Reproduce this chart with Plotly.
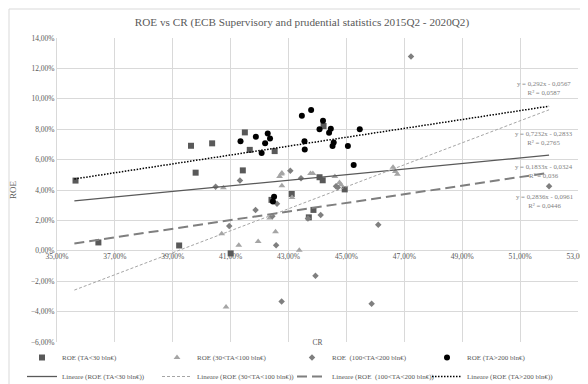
import plotly.graph_objects as go

# ---------------- data (percent values) ----------------
sq_x = [35.64, 36.43, 39.22, 39.63, 39.79, 40.36, 41.00, 41.42, 41.49, 41.66,
        42.41, 42.52, 43.11, 43.70, 43.86, 44.07, 44.18, 44.21, 44.94]
sq_y = [4.62, 0.55, 0.35, 6.91, 5.14, 7.07, -0.17, 5.29, 7.79, 6.64,
        3.35, 6.56, 3.74, 2.20, 2.69, 4.84, 4.64, 8.21, 4.04]

tr_x = [40.69, 40.75, 40.84, 41.28, 41.95, 42.35, 42.55, 42.69, 42.75, 42.77,
        42.77, 43.12, 43.37, 43.76, 43.84, 44.60, 44.76, 44.81, 46.61, 46.69, 46.76]
tr_y = [1.12, 4.15, -3.70, 0.37, 0.62, 2.15, 1.25, 4.89, 5.05, 5.12,
        4.28, 3.50, 0.03, 5.09, 5.09, 4.89, 4.50, 4.34, 5.50, 5.22, 5.04]

di_x = [40.48, 40.95, 41.32, 41.86, 42.44, 42.57, 42.60, 42.76, 43.06, 43.43,
        43.67, 43.93, 44.11, 44.64, 44.70, 45.87, 46.10, 47.23, 52.00]
di_y = [4.22, 1.63, 4.62, 2.68, 2.27, 0.36, 3.10, -3.33, 5.26, 4.78,
        2.12, -1.64, 2.36, 4.24, 4.17, -3.49, 1.71, 12.79, 4.24]

ci_x = [41.34, 41.87, 42.07, 42.19, 42.28, 42.36, 42.46, 42.50, 43.46, 43.55,
        43.56, 43.78, 44.07, 44.19, 44.40, 44.46, 44.52, 44.56, 45.05, 45.25, 45.46]
ci_y = [7.20, 7.50, 6.43, 7.07, 7.72, 7.39, 3.25, 3.55, 8.88, 7.20,
        6.67, 9.26, 8.00, 8.55, 7.76, 8.03, 6.89, 7.13, 6.89, 5.64, 7.99]

series_names = ["ROE (TA<30 bln€)", "ROE (30<TA<100 bln€)",
                "ROE  (100<TA<200 bln€)", "ROE (TA>200 bln€)"]
trend_names = ["Lineare (ROE (TA<30 bln€))", "Lineare (ROE (30<TA<100 bln€))",
               "Lineare (ROE  (100<TA<200 bln€))", "Lineare (ROE (TA>200 bln€))"]
slopes = [0.1833, 0.7232, 0.2836, 0.292]
intercepts = [-0.0324, -0.2833, -0.0961, -0.0567]
r2 = ["0,036", "0,2765", "0,0446", "0,0587"]
eq_texts = ["y = 0,1833x - 0,0324", "y = 0,7232x - 0,2833",
            "y = 0,2836x - 0,0961", "y = 0,292x - 0,0567"]
trend_x = [0.356, 0.520]

x_ticks = [0.35, 0.37, 0.39, 0.41, 0.43, 0.45, 0.47, 0.49, 0.51, 0.53]
y_ticks = [-0.06, -0.04, -0.02, 0.0, 0.02, 0.04, 0.06, 0.08, 0.10, 0.12, 0.14]

# ---------------- styling ----------------
FONT = "Liberation Serif"
TXT = "#595959"
GRID = "#d9d9d9"

pts = [(sq_x, sq_y, "square", "#595959", 6),
       (tr_x, tr_y, "triangle-up", "#a5a5a5", 6),
       (di_x, di_y, "diamond", "#7f7f7f", 5),
       (ci_x, ci_y, "circle", "#000000", 6)]
line_styles = [dict(color="#595959", width=1.3, dash="solid"),
               dict(color="#a5a5a5", width=1, dash="3px,2px"),
               dict(color="#7f7f7f", width=2, dash="10px,5px"),
               dict(color="#000000", width=1.5, dash="1.5px,1.5px")]

fig = go.Figure()
for (xs, ys, sym, col, sz), name in zip(pts, series_names):
    fig.add_trace(go.Scatter(
        x=[v / 100 for v in xs], y=[v / 100 for v in ys], mode="markers", name=name,
        marker=dict(symbol=sym, color=col, size=sz, line=dict(width=0))))

for m, q, ls, name in zip(slopes, intercepts, line_styles, trend_names):
    fig.add_trace(go.Scatter(
        x=trend_x, y=[m * v + q for v in trend_x], mode="lines", name=name,
        line=ls))

# equation labels (Excel trendline labels)
eq_pos = [(0.5183, 0.0524), (0.5183, 0.0741), (0.5183, 0.0327), (0.5183, 0.1072)]
for (ex, ey), t, r in zip(eq_pos, eq_texts, r2):
    fig.add_annotation(x=ex, y=ey, xref="x", yref="y", showarrow=False,
                       text=f"{t}<br>R² = {r}", align="center",
                       font=dict(family=FONT, size=6.8, color="#7f7f7f"))

W, H = 588, 384
ml, mr, mt, mb = 49, 18, 30, 50
pw, ph = W - ml - mr, H - mt - mb
yr = [-0.06, 0.14]
pos0 = (0 - yr[0]) / (yr[1] - yr[0])

fig.update_layout(
    width=W, height=H,
    margin=dict(l=ml, r=mr, t=mt, b=mb, autoexpand=False),
    paper_bgcolor="white", plot_bgcolor="white",
    separators=",.",
    font=dict(family=FONT, color=TXT, size=7.5),
    title=dict(text="ROE vs CR (ECB Supervisory and prudential statistics 2015Q2 - 2020Q2)",
               x=0.5, xanchor="center", y=1 - 14 / H, yanchor="middle",
               font=dict(family=FONT, size=11.2, color=TXT)),
    xaxis=dict(range=[0.35, 0.53], tickvals=x_ticks, tickformat=".2%",
               showgrid=True, gridcolor=GRID, gridwidth=1,
               zeroline=False, showline=False, ticks="",
               anchor="free", position=pos0,
               title=dict(text="CR", standoff=79, font=dict(family=FONT, size=7.5, color=TXT)),
               tickfont=dict(family=FONT, size=7.5, color=TXT)),
    yaxis=dict(range=yr, tickvals=y_ticks, tickformat=".2%",
               showgrid=True, gridcolor=GRID, gridwidth=1,
               zeroline=True, zerolinecolor=GRID, zerolinewidth=1,
               showline=True, linecolor=GRID, linewidth=1, ticks="",
               title=dict(text="ROE", standoff=12, font=dict(family=FONT, size=9, color=TXT)),
               tickfont=dict(family=FONT, size=7.5, color=TXT)),
    legend=dict(orientation="h", x=(14 - ml) / pw, xanchor="left",
                y=-(335 - mt - ph) / ph, yanchor="top",
                entrywidth=90, entrywidthmode="pixels",
                font=dict(family=FONT, size=7, color=TXT),
                bgcolor="rgba(0,0,0,0)", tracegroupgap=0),
    showlegend=True,
)
# outer chart border
fig.add_shape(type="rect", xref="paper", yref="paper",
              x0=-(ml - 1) / pw, x1=1 + (mr - 1) / pw,
              y0=-(mb - 1) / ph, y1=1 + (mt - 1) / ph,
              line=dict(color=GRID, width=1), layer="below")

fig.write_html("out.html")
